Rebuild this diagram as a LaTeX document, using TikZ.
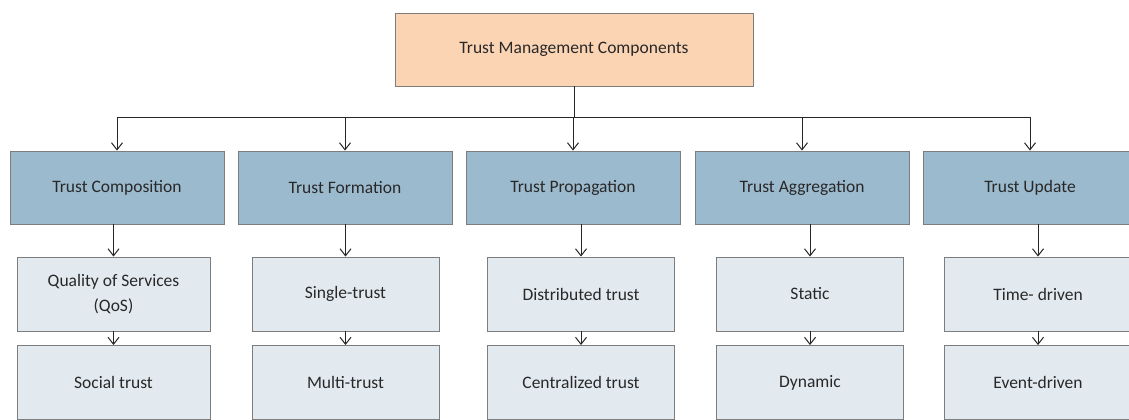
\documentclass[tikz,border=0pt]{standalone}
\usepackage{fontspec}
\setmainfont{Carlito}
\usetikzlibrary{arrows.meta}
\definecolor{topfill}{RGB}{251,212,180}
\definecolor{midfill}{RGB}{156,186,206}
\definecolor{lowfill}{RGB}{226,234,240}
\definecolor{edgecol}{RGB}{125,125,125}
\definecolor{txt}{RGB}{40,40,40}
\tikzset{
  boxbase/.style={draw=edgecol, line width=0.9pt, inner sep=0pt, align=center, text=txt, font=\fontsize{17.5}{25}\selectfont},
  topbox/.style={boxbase, fill=topfill, minimum width=358pt, minimum height=73pt},
  midbox/.style={boxbase, fill=midfill, minimum width=214pt, minimum height=73pt},
  lowbox/.style={boxbase, fill=lowfill, minimum width=187pt, minimum height=74pt},
  conn/.style={draw=black!85, line width=1pt, -{Straight Barb[length=7pt,width=11pt,line width=1pt]}},
  plain/.style={draw=black!85, line width=1pt}
}
\begin{document}
\begin{tikzpicture}[x=1pt,y=-1pt]
\useasboundingbox (0,0) rectangle (1129,420);
\clip (0,0) rectangle (1129,420);
\fill[white] (0,0) rectangle (1129,420);
\node[topbox] (top) at (574,49.5) {Trust Management Components};
\node[midbox] (m1) at (117,187.5) {Trust Composition};
\node[midbox] (m2) at (345,187.5) {Trust Formation};
\node[midbox] (m3) at (573,187.5) {Trust Propagation};
\node[midbox] (m4) at (802,187.5) {Trust Aggregation};
\node[midbox] (m5) at (1030,187.5) {Trust Update};
\node[lowbox, minimum width=193pt] (a1) at (113.5,294) {Quality of Services\\(QoS)};
\node[lowbox, minimum width=193pt] (b1) at (113.5,382.5) {Social trust};
\node[lowbox] (a2) at (345.5,294) {Single-trust};
\node[lowbox] (b2) at (345.5,382.5) {Multi-trust};
\node[lowbox] (a3) at (581,294) {Distributed trust};
\node[lowbox] (b3) at (581,382.5) {Centralized trust};
\node[lowbox] (a4) at (810,294) {Static};
\node[lowbox] (b4) at (810,382.5) {Dynamic};
\node[lowbox] (a5) at (1038,294) {Time- driven};
\node[lowbox] (b5) at (1038,382.5) {Event-driven};
\coordinate (bus) at (574,117);
\draw[plain] (top.south) -- (bus);
\draw[plain] (bus -| m1.north) -- (bus -| m5.north);
\foreach \m in {m1,m2,m3,m4,m5}{
  \draw[conn] (bus -| \m.north) -- (\m.north);
}
\foreach \i in {1,...,5}{
  \draw[conn] (m\i.south -| a\i.north) -- (a\i.north);
  \draw[conn] (a\i.south) -- (b\i.north);
}
\end{tikzpicture}
\end{document}
